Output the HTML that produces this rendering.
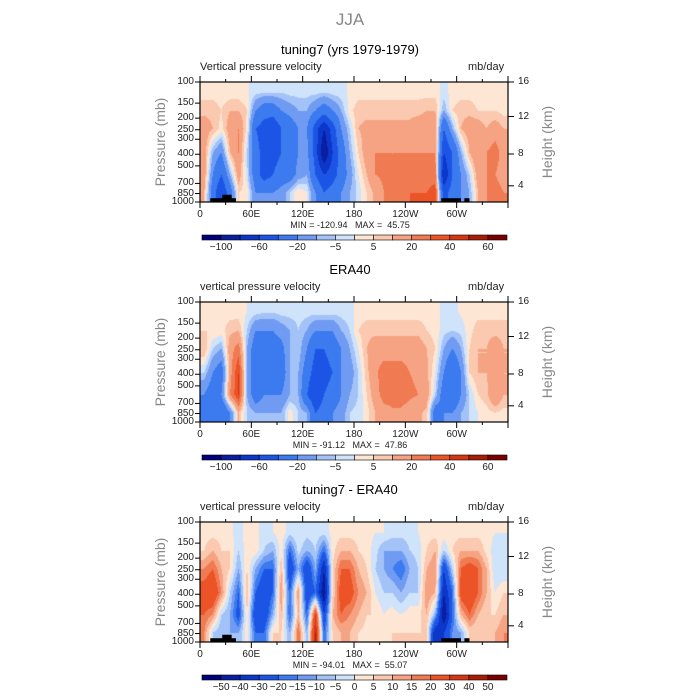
<!DOCTYPE html>
<html><head><meta charset="utf-8">
<style>
body{margin:0;background:#fff;width:700px;height:700px;overflow:hidden;font-family:"Liberation Sans",sans-serif}
#root{position:relative;width:700px;height:700px}
.t{position:absolute;white-space:pre;color:#000}
</style></head><body>
<div id="root">
<div class="t" style="left:0;width:700px;top:10px;text-align:center;font-size:17px;color:#888">JJA</div>
</div>
<script>
// ===== data =====
const lonBins = [0,10,20,30,40,50,60,70,80,90,100,110,120,130,140,150,160,170,180,190,200,210,220,230,240,250,260,270,280,290,300,310,320,330,340,350];
const rowBounds = [100,150,200,300,500,700,1000];
const pTicks = [100,150,200,250,300,400,500,700,850,1000];
const hTicks = [4,8,12,16];
const hTickP = [733,398,194,100];
const lonLabels = ["0","60E","120E","180","120W","60W"];
const lonLabelVals = [0,60,120,180,240,300];
const levelsA = [-120,-100,-80,-60,-40,-20,-10,-5,0,5,10,20,30,40,50,60,70];
const labelsA = ["","-100","","-60","","-20","","-5","","5","","20","","40","","60",""];
const levelsB = [-60,-50,-40,-30,-20,-15,-10,-5,0,5,10,15,20,30,40,50,60];
const labelsB = ["","-50","-40","-30","-20","-15","-10","-5","0","5","10","15","20","30","40","50",""];
// column profiles: [100-150,150-200,200-300,300-500,500-700,700-1000] mb/day
const model = [[3,8,15,15,15,10],[3,8,10,-10,-20,-30],[2,5,3,-20,-40,-60],[2,10,15,10,-10,-30],[2,10,20,20,15,5],[1,5,3,-5,-3,3],[-3,-20,-40,-30,-30,-20],[-5,-30,-50,-50,-50,-20],[-5,-30,-60,-50,-40,-20],[-5,-20,-40,-40,-30,-15],[-3,-15,-30,-30,-30,-5],[-3,-10,-20,-20,-15,5],[-3,-10,-20,-15,-10,0],[-3,-20,-50,-50,-40,-20],[-5,-30,-80,-100,-60,-40],[-3,-20,-50,-60,-50,-30],[-2,-10,-20,-30,-30,-20],[1,3,-5,-10,-15,-10],[3,8,10,5,0,-3],[3,8,12,15,10,5],[3,8,12,20,20,12],[3,8,12,20,22,20],[3,8,12,20,20,25],[3,8,12,20,22,25],[3,8,12,20,22,30],[3,8,15,20,25,30],[3,10,15,20,25,30],[3,10,15,20,25,35],[-2,-10,-40,-60,-80,-50],[2,5,-10,-40,-40,-30],[3,8,10,-10,-20,-20],[3,8,15,10,-5,-10],[2,5,15,20,15,10],[2,5,10,20,20,20],[2,5,15,25,20,25],[2,3,10,15,15,20]];
const era = [[2,5,10,-5,-20,-30],[2,5,-5,-20,-30,-40],[2,3,-10,-30,-20,-40],[3,8,15,15,20,-20],[2,10,25,40,40,10],[0,-5,-10,-10,-10,-5],[-3,-20,-30,-30,-30,-10],[-5,-20,-30,-30,-20,-10],[-5,-20,-30,-30,-20,-10],[-3,-15,-25,-30,-20,-10],[-3,-10,-10,-10,-10,3],[-3,-5,-5,-10,-10,-5],[-3,-10,-20,-30,-40,-10],[-3,-20,-40,-50,-60,-40],[-3,-20,-40,-50,-40,-30],[-3,-20,-30,-40,-30,-20],[-3,-10,-20,-20,-20,-15],[-2,-5,-10,-15,-10,-5],[2,5,0,-5,-5,-3],[3,8,10,8,5,3],[3,8,15,18,15,10],[3,8,15,25,25,15],[3,8,15,25,25,18],[3,8,15,25,25,18],[3,8,15,20,22,15],[3,8,15,18,20,12],[3,5,10,12,15,8],[2,3,5,0,-5,-30],[-2,-3,-10,-20,-30,-20],[-2,-5,-20,-40,-40,-20],[1,-3,-10,-20,-20,-10],[2,3,5,5,-5,-5],[3,8,10,10,5,0],[3,8,10,10,8,3],[3,8,15,15,20,5],[3,8,10,10,10,3]];
const diff = [[3,5,15,25,20,15],[3,10,20,30,15,-5],[3,5,10,15,-5,-10],[1,5,5,-5,-10,-10],[-2,-5,-10,-20,-25,-10],[2,3,5,10,5,3],[2,3,-10,-20,-30,-20],[-3,-5,-20,-30,-30,-20],[0,-10,-20,-20,-10,5],[3,3,10,15,10,5],[-3,-20,-30,-20,-20,-10],[0,-3,-10,15,10,20],[-3,-10,-30,-30,-20,-10],[-2,-5,-10,-20,30,40],[-3,-20,-40,-50,-30,-20],[2,3,5,5,10,5],[3,10,20,25,20,10],[3,10,20,25,15,10],[3,5,10,15,10,5],[2,3,5,10,5,3],[0,-3,-5,0,5,5],[0,-10,-10,-5,0,3],[-3,-10,-15,-5,3,5],[-3,-10,-20,-10,0,5],[-3,-5,-10,-5,3,5],[0,-3,-5,-5,3,5],[3,5,10,15,10,5],[3,10,15,10,-10,-40],[3,-5,-30,-40,-50,-30],[3,5,-5,-20,-20,-15],[3,10,20,25,10,-10],[3,10,25,30,20,5],[3,10,20,20,10,5],[2,3,10,10,5,5],[0,-3,-5,0,5,10],[0,-3,-5,5,10,15]];
const colors = ["#00007a","#0a1ea0","#0c37c8","#1c55e6","#3b7aef","#6f9cf2","#a3c2f8","#cfe3fb","#fde6d4","#fbc9b0","#f5a382","#f07a52","#ec5428","#d63612","#a81e04","#7a0000"];
const minmax = [["-120.94","45.75"],["-91.12","47.86"],["-94.01","55.07"]];

// ===== layout =====
const X0=200,X1=508,PH=120;
const root=document.getElementById('root');
function xS(lon){return X0+(lon/360)*(X1-X0);}
function yS(top,p){return top+Math.log10(p/100)*PH;}
function txt(parent,s,x,y,size,color,name,extra){
  const d=document.createElement('div');d.className='t';d.textContent=s;
  
  
  d.style.left=x+'px';d.style.top=y+'px';d.style.fontSize=size+'px';d.style.color=color||'#000';
  if(extra)Object.assign(d.style,extra);
  parent.appendChild(d);return d;
}
function colorFor(v,lev){let i=0;while(i<15&&v>=lev[i+1])i++;return colors[i];}
function sample(data,lonF,lp){
  let c=lonF-0.5; let c0=Math.floor(c); let fc=c-c0;
  let ca=Math.max(0,Math.min(35,c0)),cb=Math.max(0,Math.min(35,c0+1));
  const cent=[];for(let r=0;r<6;r++)cent.push((Math.log10(rowBounds[r]/100)+Math.log10(rowBounds[r+1]/100))/2);
  let r0=0;while(r0<4&&lp>cent[r0+1])r0++;
  let fr=(lp-cent[r0])/(cent[r0+1]-cent[r0]);fr=Math.max(0,Math.min(1,fr));
  const a=data[ca][r0]*(1-fc)+data[cb][r0]*fc;
  const b=data[ca][r0+1]*(1-fc)+data[cb][r0+1]*fc;
  return a*(1-fr)+b*fr;
}
const NS='http://www.w3.org/2000/svg';
function panel(top,title,sub,data,lev,labels,mm,topo){
  txt(root,title,0,top-40,13,'#000',"panel-title",{width:'700px',textAlign:'center'});
  txt(root,sub,X0,top-21,11,'#222',"variable-label");
  txt(root,"mb/day",468,top-21,11,'#222',"units-label");
  const cv=document.createElement('canvas');cv.width=X1-X0;cv.height=PH;
  
  
  Object.assign(cv.style,{position:'absolute',left:X0+'px',top:top+'px'});
  root.appendChild(cv);
  const ctx=cv.getContext('2d');
  for(let y=0;y<PH;y++){for(let x=0;x<X1-X0;x++){
    const lonF=(x+0.5)/(X1-X0)*36; const lp=(y+0.5)/PH;
    ctx.fillStyle=colorFor(sample(data,lonF,lp),lev);ctx.fillRect(x,y,1,1);}}
  const svg=document.createElementNS(NS,'svg');
  
  
  svg.setAttribute('width',700);svg.setAttribute('height',700);
  Object.assign(svg.style,{position:'absolute',left:0,top:0});
  root.appendChild(svg);
  function line(x1,y1,x2,y2,w,name){const l=document.createElementNS(NS,'line');
    l.setAttribute('x1',x1);l.setAttribute('y1',y1);l.setAttribute('x2',x2);l.setAttribute('y2',y2);
    l.setAttribute('stroke','#000');l.setAttribute('stroke-width',w||1);
    
    
    svg.appendChild(l);}
  function rect(x,y,w,h,fill,name){const r=document.createElementNS(NS,'rect');
    r.setAttribute('x',x);r.setAttribute('y',y);r.setAttribute('width',w);r.setAttribute('height',h);r.setAttribute('fill',fill);
    
    
    svg.appendChild(r);return r;}
  topo.forEach(t=>rect(xS(t[0]),yS(top,t[2]),xS(t[1])-xS(t[0]),top+PH-yS(top,t[2]),'#000','topography'));
  const fr=rect(X0,top,X1-X0,PH,'none','plot-frame');fr.setAttribute('stroke','#000');fr.setAttribute('stroke-width',1.2);
  for(let l=0;l<=360;l+=30){line(xS(l),top+PH,xS(l),top+PH+(l%60==0?6:3),1,'x-tick');line(xS(l),top,xS(l),top-(l%60==0?6:3),1,'x-tick-top');}
  lonLabelVals.forEach((v,i)=>txt(root,lonLabels[i],xS(v)-15,top+PH+7,10,'#222','x-tick-label',{width:'30px',textAlign:'center'}));
  pTicks.forEach(p=>{const y=yS(top,p);line(X0-5,y,X0,y,1,'y-tick');
    txt(root,String(p),X0-40,y-6,10,'#222','y-tick-label',{width:'34px',textAlign:'right'});});
  hTicks.forEach((h,i)=>{const y=yS(top,hTickP[i]);line(X1,y,X1+6,y,1,'height-tick');
    txt(root,String(h),X1+10,y-6,10,'#222','height-tick-label');});
  txt(root,"Pressure (mb)",105,top+52,14,'#888','y-axis-title',{transform:'rotate(-90deg)',width:'110px',textAlign:'center'});
  txt(root,"Height (km)",492,top+52,14,'#888','right-axis-title',{transform:'rotate(-90deg)',width:'110px',textAlign:'center'});
  txt(root,"MIN = "+mm[0]+"   MAX =  "+mm[1],0,top+PH+18,9,'#222','min-max-label',{width:'700px',textAlign:'center'});
  const cbY=top+PH+33,bw=(507-202)/16;
  for(let i=0;i<16;i++){const r=rect(202+i*bw,cbY,bw,5,colors[i],'colorbar-box');r.setAttribute('stroke','#000');r.setAttribute('stroke-width',0.6);}
  for(let i=1;i<16;i++){if(labels[i])txt(root,labels[i].replace('-','\u2212'),202+i*bw-15,cbY+7,10,'#222','colorbar-label',{width:'30px',textAlign:'center'});}
}
const topoA=[[12,42,930],[26,37,870],[282,305,930],[309,315,930]];
panel(82,"tuning7 (yrs 1979-1979)","Vertical pressure velocity",model,levelsA,labelsA,minmax[0],topoA);
panel(302,"ERA40","vertical pressure velocity",era,levelsA,labelsA,minmax[1],[]);
panel(522,"tuning7 - ERA40","vertical pressure velocity",diff,levelsB,labelsB,minmax[2],topoA);
</script>
</body></html>
